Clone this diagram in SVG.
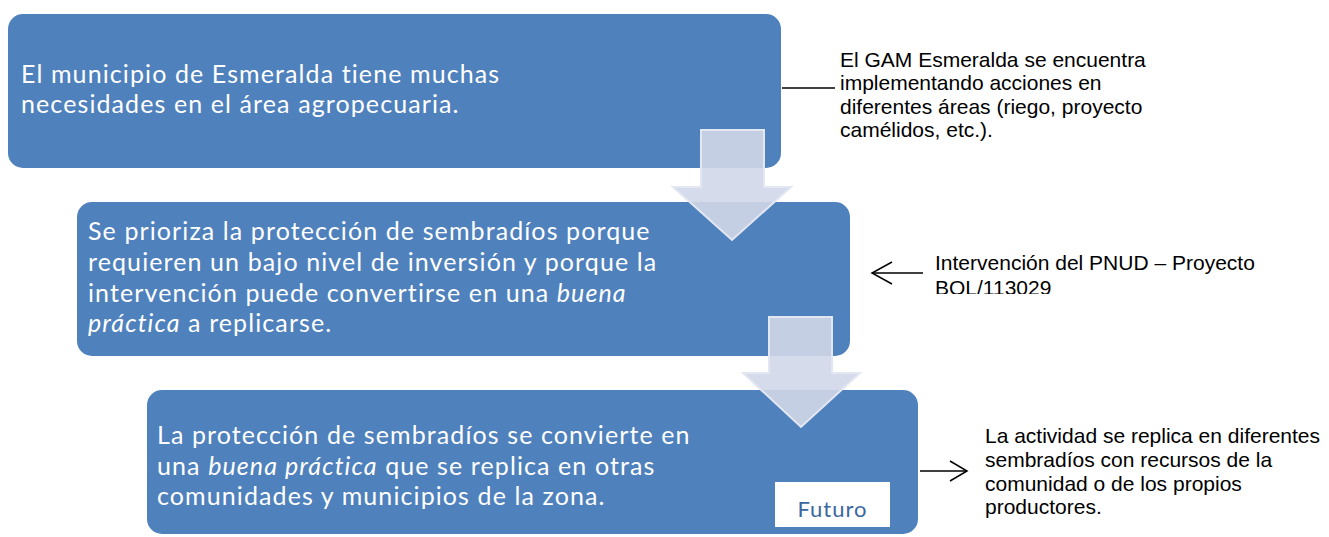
<svg xmlns="http://www.w3.org/2000/svg" width="1329" height="537" viewBox="0 0 1329 537">
<defs>
<style>
.box{fill:#4f81bd;}
.bt{font-family:Lato,"Open Sans",sans-serif;font-size:25px;letter-spacing:1.1px;fill:#ffffff;}
.nt{font-family:"Liberation Sans",Arial,sans-serif;font-size:21px;fill:#000000;}
.arr{fill:rgb(208,215,232);fill-opacity:0.9;stroke:#e3e7f2;stroke-width:2;stroke-linejoin:miter;}
.conn{stroke:#000;stroke-width:1.5;fill:none;}
</style>
<clipPath id="clipPnud"><rect x="920" y="240" width="400" height="54"/></clipPath>
</defs>
<g id="node1">
<rect class="box" x="8" y="14" width="773" height="154" rx="15"/>
<text class="bt"><tspan x="21" y="83">El municipio de Esmeralda tiene muchas</tspan><tspan x="21" y="113">necesidades en el área agropecuaria.</tspan></text>
</g>
<g id="node2">
<rect class="box" x="77" y="202" width="773" height="154" rx="15"/>
<text class="bt"><tspan x="88" y="240">Se prioriza la protección de sembradíos porque</tspan><tspan x="88" y="271">requieren un bajo nivel de inversión y porque la</tspan><tspan x="88" y="301.5">intervención puede convertirse en una <tspan font-style="italic">buena</tspan></tspan><tspan x="88" y="332"><tspan font-style="italic">práctica</tspan> a replicarse.</tspan></text>
</g>
<g id="node3">
<rect class="box" x="147" y="390" width="771" height="144" rx="15"/>
<text class="bt"><tspan x="157" y="444">La protección de sembradíos se convierte en</tspan><tspan x="157" y="474.5">una <tspan font-style="italic">buena práctica</tspan> que se replica en otras</tspan><tspan x="157" y="505">comunidades y municipios de la zona.</tspan></text>
<rect x="775" y="482" width="115" height="45" fill="#ffffff"/>
<text x="832.5" y="517" text-anchor="middle" font-family="Lato,'Open Sans',sans-serif" font-size="22" letter-spacing="1" fill="#3b679f">Futuro</text>
</g>
<g id="arrow1">
<path class="arr" d="M701,130 H764 V187 H791 L732,240 L673,187 H701 Z"/>
</g>
<g id="arrow2">
<path class="arr" d="M769,317 H832 V373 H860 L801,427 L743,373 H769 Z"/>
</g>
<g id="note1">
<text class="nt"><tspan x="840" y="67">El GAM Esmeralda se encuentra</tspan><tspan x="840" y="90">implementando acciones  en</tspan><tspan x="840" y="113.5">diferentes áreas (riego, proyecto</tspan><tspan x="840" y="137">camélidos, etc.).</tspan></text>
</g>
<g id="note2">
<text class="nt" clip-path="url(#clipPnud)"><tspan x="935" y="270">Intervención del PNUD – Proyecto</tspan><tspan x="935" y="295">BOL/113029</tspan></text>
</g>
<g id="note3">
<text class="nt"><tspan x="985" y="443">La actividad se replica en diferentes</tspan><tspan x="985" y="467">sembradíos con recursos de la</tspan><tspan x="985" y="490.5">comunidad o de los propios</tspan><tspan x="985" y="514">productores.</tspan></text>
</g>
<g id="connectors">
<line class="conn" x1="782" y1="88" x2="835" y2="88"/>
<line class="conn" x1="872" y1="273" x2="923" y2="273"/>
<polyline class="conn" points="892,262 872,273 892,284"/>
<line class="conn" x1="920" y1="471" x2="967" y2="471"/>
<polyline class="conn" points="950,461 967,471 950,481"/>
</g>
</svg>
